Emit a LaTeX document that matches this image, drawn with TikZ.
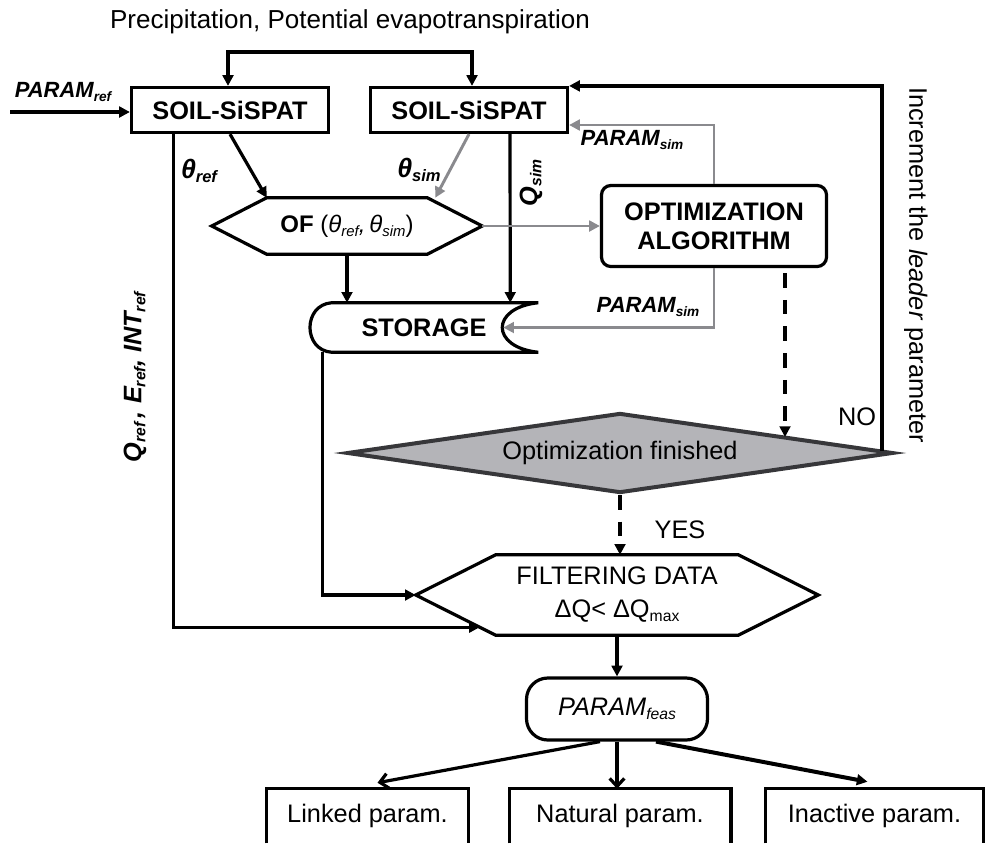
\documentclass[tikz,border=0pt]{standalone}
\usepackage{fontspec}
\setmainfont{Liberation Sans}
\usepackage{graphicx}
\usetikzlibrary{arrows.meta,calc,shapes.geometric}
\definecolor{gry}{RGB}{138,138,142}
\definecolor{dfill}{RGB}{180,180,184}
\definecolor{dline}{RGB}{55,55,58}
\newcommand{\sbs}[1]{\raisebox{-0.3ex}{\scalebox{0.62}{#1}}}
\begin{document}
\begin{tikzpicture}[x=0.75pt,y=-0.75pt,
  every node/.style={inner sep=0pt,font=\fontsize{19}{22}\selectfont},
  ln/.style={line width=2.4pt},
  atip/.style={-{Triangle[length=8pt,width=8pt]}},
  arr/.style={ln,atip},
  garr/.style={line width=2.2pt,color=gry,-{Triangle[length=8pt,width=8pt]}},
  dsh/.style={line width=3pt,dash pattern=on 11pt off 9pt},
  sbox/.style={draw,ln,minimum width=147.75pt,minimum height=33.75pt,font=\fontsize{19}{22}\selectfont\bfseries},
  bi/.style={font=\fontsize{16.5}{20}\selectfont\bfseries\itshape},
  bth/.style={font=\fontsize{20}{22}\selectfont\bfseries\itshape},
  bbox/.style={minimum height=40.5pt},
  side/.style={line width=2.6pt},
  barb/.style={line width=2.4pt,-{Straight Barb[length=6pt,width=11pt,line width=2.4pt]}}
]
\useasboundingbox (0,0) rectangle (985,843);

% top
\node (title) at (350,22) [font=\fontsize{19.5}{22}\selectfont] {Precipitation, Potential evapotranspiration};
\node[sbox] (L1) at (230,110) {SOIL-SiSPAT};
\node[sbox] (R1) at (469,110) {SOIL-SiSPAT};
\coordinate (bl) at (228,52);
\coordinate (br) at (472,52);
\draw[ln,{Triangle[length=8pt,width=8pt]}-{Triangle[length=8pt,width=8pt]}] (bl |- L1.north) -- (bl) -- (br) -- (br |- R1.north);

\node[bi] (pref) at (63,92) {PARAM\sbs{ref}};
\coordinate (pin) at (10,112);
\draw[arr] (pin) -- (pin -| L1.west);

% optimization algorithm
\node[draw,ln,rounded corners=7pt,minimum width=168.75pt,minimum height=60.75pt,align=center,font=\fontsize{19}{22}\selectfont\bfseries] (OPT) at (714,226) {OPTIMIZATION\\ALGORITHM};

% OF hexagon
\node[minimum width=202.5pt,minimum height=42pt,font=\fontsize{18}{20}\selectfont] (OF) at (347,226) {\textbf{OF} (\textit{θ\sbs{ref},\,θ\sbs{sim}})};
\draw[ln] (OF.west) -- ($(OF.north west)+(55,0)$) coordinate (ofa) -- ($(OF.north east)+(-55,0)$) -- (OF.east) -- ($(OF.south east)+(-55,0)$) -- ($(OF.south west)+(55,0)$) -- cycle;
\coordinate (ofb) at ($(OF.north east)+(-47,0)$);
\draw[arr] (L1.south) -- (ofa);
\draw[garr] (R1.south) -- (ofb);
\node[bth] (thr) at (199,171) {θ\sbs{ref}};
\node[bth] (ths) at (419,170) {θ\sbs{sim}};

% storage
\node[minimum width=171pt,minimum height=36.75pt,font=\fontsize{19}{22}\selectfont\bfseries] (ST) at (424,327.5) {STORAGE};
\draw[ln] ($(ST.north west)+(22,0)$) -- (ST.north east) .. controls ($(ST.north east)+(-48,5)$) and ($(ST.south east)+(-48,-5)$) .. (ST.south east) -- ($(ST.south west)+(22,0)$) .. controls ($(ST.south west)+(-7,-2)$) and ($(ST.north west)+(-7,2)$) .. cycle;

\coordinate (qa) at ($(R1.south)+(41,0)$);
\coordinate (qb) at ($(ST.north east)+(-28,0)$);
\draw[arr] (qa) -- (qb);
\node[rotate=90,font=\fontsize{19}{20}\selectfont\bfseries\itshape] (qsim) at (531,183) {Q\sbs{sim}};
\draw[arr] (OF.south) -- (OF.south |- ST.north);
\draw[garr] (OF.east) -- (OF.east -| OPT.west);
\coordinate (gu) at (714,125);
\draw[garr] (OPT.north) -- (gu) -- (gu -| R1.east);
\node[bi] (ps1) at (632,140) {PARAM\sbs{sim}};
\coordinate (gd) at (714,327.5);
\coordinate (stc) at ($(ST.east)+(-35,0)$);
\draw[garr] (OPT.south) -- (gd) -- (stc);
\node[bi] (ps2) at (648,307) {PARAM\sbs{sim}};

% decision
\node[diamond,aspect=6.8,minimum width=409.5pt,minimum height=60pt,draw=dline,fill=dfill,line width=3pt] (D) at (620,453) {Optimization finished};
\coordinate (da) at ($(OPT.south)+(71,5)$);
\coordinate (db) at (785,437);
\draw[dsh,atip] (da) -- (db);
\coordinate (lpa) at (882,451);
\draw[arr] (lpa) -- (lpa |- R1.north east) -- (R1.north east);
\node (no) at (857,417) {NO};
\node[rotate=-90] (inc) at (916,265) {Increment the \textit{leader} parameter};

% filtering
\node[minimum width=301.5pt,minimum height=60pt,align=center,font=\fontsize{19}{24.75}\selectfont] (F) at (617,595) {FILTERING DATA\\ΔQ< ΔQ\sbs{max}};
\draw[ln] (F.west) -- ($(F.north west)+(80,0)$) -- ($(F.north east)+(-80,0)$) -- (F.east) -- ($(F.south east)+(-80,0)$) -- ($(F.south west)+(80,0)$) coordinate (fsw) -- cycle;
\coordinate (fin2) at ($(F.west)!0.8!(fsw)$);
\draw[dsh,atip] (D.south) -- (D.south |- F.north);
\node (yes) at (680,530) {YES};

\coordinate (sa) at ($(ST.south west)+(13,0)$);
\draw[arr] (sa) -- (sa |- F.west) -- (F.west);
\coordinate (tra) at ($(L1.south west)+(43.5,0)$);
\draw[arr] (tra) -- (tra |- fin2) -- (fin2);
\node[rotate=90,font=\fontsize{19}{22}\selectfont\bfseries\itshape] (qref) at (135,377) {Q\sbs{ref}\,, E\sbs{ref}, INT\sbs{ref}};

% feasible params
\node[draw,ln,rounded corners=16pt,minimum width=135.75pt,minimum height=46.5pt,font=\fontsize{19}{22}\selectfont\itshape] (P) at (617,709) {PARAM\sbs{feas}};
\draw[arr] (F.south) -- (P.north);

\node[bbox,minimum width=150.75pt] (B1) at (367.5,816) {Linked param.};
\node[bbox,minimum width=165.75pt] (B2) at (620,816) {Natural param.};
\node[bbox,minimum width=162.75pt] (B3) at (874.5,816) {Inactive param.};
\draw[side] (B1.south west) -- (B1.north west) -- (B1.north east) -- (B1.south east);
\draw[side] (B2.south west) -- (B2.north west) -- (B2.north east) -- (B2.south east);
\draw[side] (B3.south west) -- (B3.north west) -- (B3.north east) -- (B3.south east);

\draw[barb] ($(P.south)+(-17,0)$) -- ($(B1.north)+(10,-6)$);
\draw[barb] (P.south) -- (P.south |- B2.north);
\draw[line width=3pt,atip] ($(P.south)+(39,0)$) -- ($(B3.north)+(-7,-7)$);
\end{tikzpicture}
\end{document}
